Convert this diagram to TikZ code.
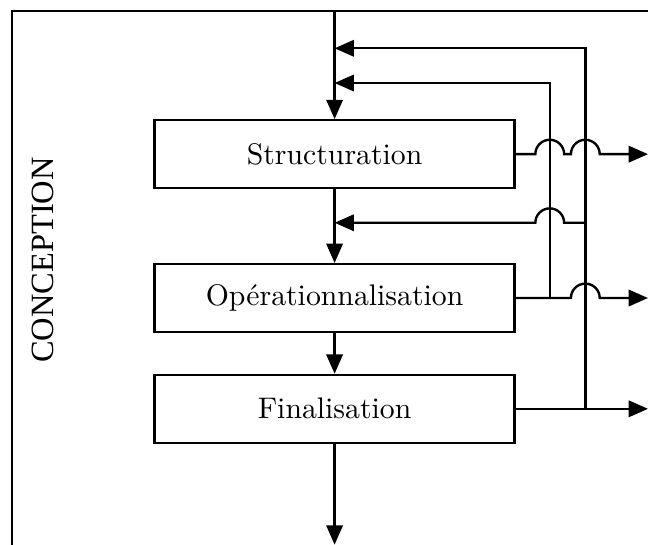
\documentclass[tikz,border=0pt]{standalone}
\usepackage{fontspec}
\newfontfamily\titrefont{Liberation Serif}
\usetikzlibrary{arrows.meta,positioning,calc}

\begin{document}
\begin{tikzpicture}[thick,
		etape/.style={draw,minimum width=4.25cm,minimum height=0.8cm},
		fleche/.style={-{Triangle[length=6.5pt,width=5.5pt]}}]
		\useasboundingbox (0,0) rectangle (7.65,-6.43);
		% cadre
		\draw (0.14,-6.7) |- (7.9,-0.13);
		\node[rotate=90] (titre) at (0.51,-3.07) {\titrefont\fontsize{10.9}{13}\selectfont CONCEPTION};
		% etapes
		\node[etape] (struct) at (3.95,-1.82) {Structuration};
		\node[etape,below=0.87cm of struct] (oper) {Opérationnalisation};
		\node[etape,below=0.48cm of oper] (final) {Finalisation};
		% points
		\coordinate (haut) at (3.95,-0.13);
		\coordinate (bas) at (3.95,-6.43);
		\coordinate (e1) at (3.95,-0.57);
		\coordinate (e2) at (3.95,-0.98);
		\coordinate (e3) at (3.95,-2.63);
		\coordinate (va) at (6.49,0);
		\coordinate (vb) at (6.91,0);
		\coordinate (droite) at (7.65,0);
		% flux principal
		\draw[fleche] (haut) -- (struct);
		\draw[fleche] (struct) -- (oper);
		\draw[fleche] (oper) -- (final);
		\draw[fleche] (final) -- (bas);
		% sorties
		\draw[fleche] (struct.east) -- ($(struct.east -| va)+(-0.17,0)$)
			arc[start angle=180,end angle=0,radius=0.17]
			-- ($(struct.east -| vb)+(-0.17,0)$)
			arc[start angle=180,end angle=0,radius=0.17] -- (struct.east -| droite);
		\draw[fleche] (oper.east) -- ($(oper.east -| vb)+(-0.17,0)$)
			arc[start angle=180,end angle=0,radius=0.17] -- (oper.east -| droite);
		\draw[fleche] (final.east) -- (final.east -| droite);
		% retours
		\draw[fleche] (oper.east -| va) |- (e2);
		\draw[fleche] (final.east -| vb) |- (e1);
		\draw[fleche] (e3 -| vb) -- ($(e3 -| va)+(0.17,0)$)
			arc[start angle=0,end angle=180,radius=0.17] -- (e3);
	\end{tikzpicture}
\end{document}
